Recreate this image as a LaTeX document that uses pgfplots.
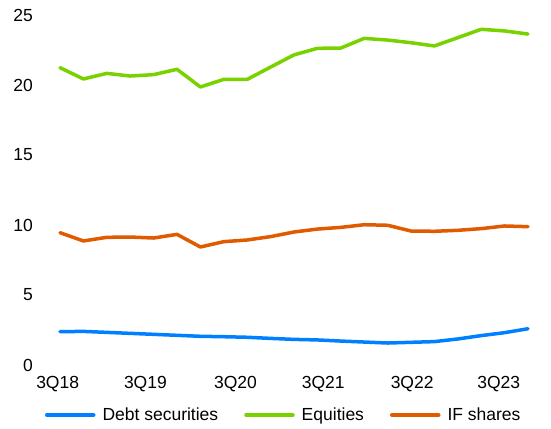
\documentclass[border=0pt]{standalone}
\usepackage{pgfplots}
\pgfplotsset{compat=1.18}
\usepackage{fontspec}
\setmainfont{Liberation Sans}
\definecolor{cblue}{RGB}{0,128,255}
\definecolor{cgreen}{RGB}{120,210,0}
\definecolor{corange}{RGB}{224,90,0}
\begin{document}
\fontsize{17.5}{20}\selectfont
\begin{tikzpicture}[x=1pt,y=1pt]
\useasboundingbox (0,0) rectangle (551,428);
\begin{axis}[
  at={(57.66pt,63pt)}, anchor=south west,
  scale only axis, width=470.34pt, height=350pt,
  xmin=-0.1, xmax=20, ymin=0, ymax=25,
  axis line style={draw=none},
  major tick length=0pt,
  xtick={-0.1,3.65,7.5,11.25,15.05,18.75},
  xticklabels={3Q18,3Q19,3Q20,3Q21,3Q22,3Q23},
  ytick={0,5,10,15,20,25},
  clip=false,
  /pgf/number format/assume math mode=true,
  tick label style={font=\fontsize{17.5}{20}\selectfont, inner sep=0pt},
  yticklabel style={anchor=east, xshift=-24.66pt},
  xticklabel style={anchor=north, yshift=-11.5pt},
  legend style={at={(-0.0269,-0.1429)}, anchor=west, draw=none, fill=none,
    legend columns=3, font=\fontsize{17.5}{20}\selectfont,
    inner sep=0pt, outer sep=0pt, column sep=0pt,
    nodes={inner sep=0pt, outer sep=0pt}},
  legend cell align=left,
  legend image code/.code={\draw[#1, line width=3.5pt, line cap=round] (0pt,0pt) -- (47pt,0pt);
    \path (54pt,0pt);},
  every axis plot/.append style={line width=3.5pt, line join=round, line cap=round},
]
\addplot[cblue] coordinates {
(0,2.38) (1,2.40) (2,2.33) (3,2.26) (4,2.19) (5,2.12) (6,2.05) (7,2.02) (8,1.98) (9,1.90) (10,1.83)
(11,1.79) (12,1.71) (13,1.64) (14,1.57) (15,1.62) (16,1.67) (17,1.86) (18,2.10) (19,2.31) (20,2.59)};
\addlegendentry{Debt securities\rule{26pt}{0pt}}
\addplot[cgreen] coordinates {
(0,21.24) (1,20.43) (2,20.83) (3,20.64) (4,20.74) (5,21.12) (6,19.86) (7,20.40) (8,20.40) (9,21.28) (10,22.15)
(11,22.62) (12,22.64) (13,23.33) (14,23.21) (15,23.02) (16,22.79) (17,23.38) (18,23.98) (19,23.86) (20,23.64)};
\addlegendentry{Equities\rule{26pt}{0pt}}
\addplot[corange] coordinates {
(0,9.45) (1,8.86) (2,9.12) (3,9.14) (4,9.07) (5,9.33) (6,8.43) (7,8.81) (8,8.93) (9,9.17) (10,9.50)
(11,9.71) (12,9.83) (13,10.02) (14,9.98) (15,9.57) (16,9.55) (17,9.62) (18,9.74) (19,9.93) (20,9.88)};
\addlegendentry{IF shares}
\end{axis}
\end{tikzpicture}
\end{document}
